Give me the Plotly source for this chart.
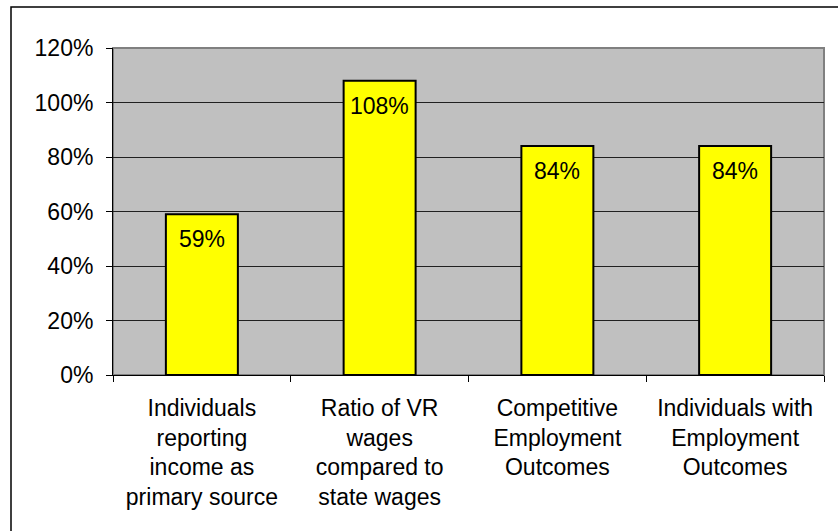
import plotly.graph_objects as go

categories = [
    "Individuals<br>reporting<br>income as<br>primary source",
    "Ratio of VR<br>wages<br>compared to<br>state wages",
    "Competitive<br>Employment<br>Outcomes",
    "Individuals with<br>Employment<br>Outcomes",
]
values = [0.59, 1.08, 0.84, 0.84]
y_ticks = [0, 0.2, 0.4, 0.6, 0.8, 1.0, 1.2]

W, H = 838, 531
L, R, T, B = 113, 14, 48, 156
pw, ph = W - L - R, H - T - B

def px_x(x):
    return (x - L) / pw

def px_y(y):
    return (H - B - y) / ph

FONT = "Arial, Liberation Sans, sans-serif"

fig = go.Figure(go.Bar(
    x=categories, y=values,
    width=0.405,
    marker=dict(color="#FFFF00", line=dict(color="#000000", width=2)),
    hovertemplate="%{y:.0%}<extra></extra>",
))

# value labels just inside the top of each bar
for cat, v in zip(categories, values):
    fig.add_annotation(x=cat, y=v, text=f"{v:.0%}", showarrow=False,
                       yanchor="top", yshift=-10,
                       font=dict(family=FONT, size=23, color="#000000"))

# outer chart border
fig.add_shape(type="rect", xref="paper", yref="paper",
              x0=px_x(11), x1=px_x(842), y0=px_y(535), y1=px_y(7),
              line=dict(color="#000000", width=1.5), layer="below")
# gray plot-area frame (top/right)
fig.add_shape(type="rect", xref="paper", yref="paper",
              x0=0, x1=1, y0=0, y1=1,
              line=dict(color="#808080", width=2), layer="below")

fig.update_layout(
    width=W, height=H,
    margin=dict(l=L, r=R, t=T, b=B),
    paper_bgcolor="#FFFFFF", plot_bgcolor="#C0C0C0",
    font=dict(family=FONT, size=23, color="#000000"),
    showlegend=False,
    xaxis=dict(showgrid=False, showline=True, linecolor="#000000", linewidth=1,
               ticks="outside", ticklen=6, tickcolor="#000000",
               tickson="boundaries", tickfont=dict(size=23),
               ticklabelstandoff=12, range=[-0.5, 3.5]),
    yaxis=dict(range=[0, 1.2], tickvals=y_ticks, tickformat=".0%",
               showgrid=True, gridcolor="#202020", gridwidth=1,
               showline=True, linecolor="#000000", linewidth=1,
               ticks="outside", ticklen=6, tickcolor="#000000",
               tickfont=dict(size=23), ticklabelstandoff=8, zeroline=False),
)

fig.write_html("out.html", config={"displayModeBar": False},
               post_script="document.body.style.margin='0';")
